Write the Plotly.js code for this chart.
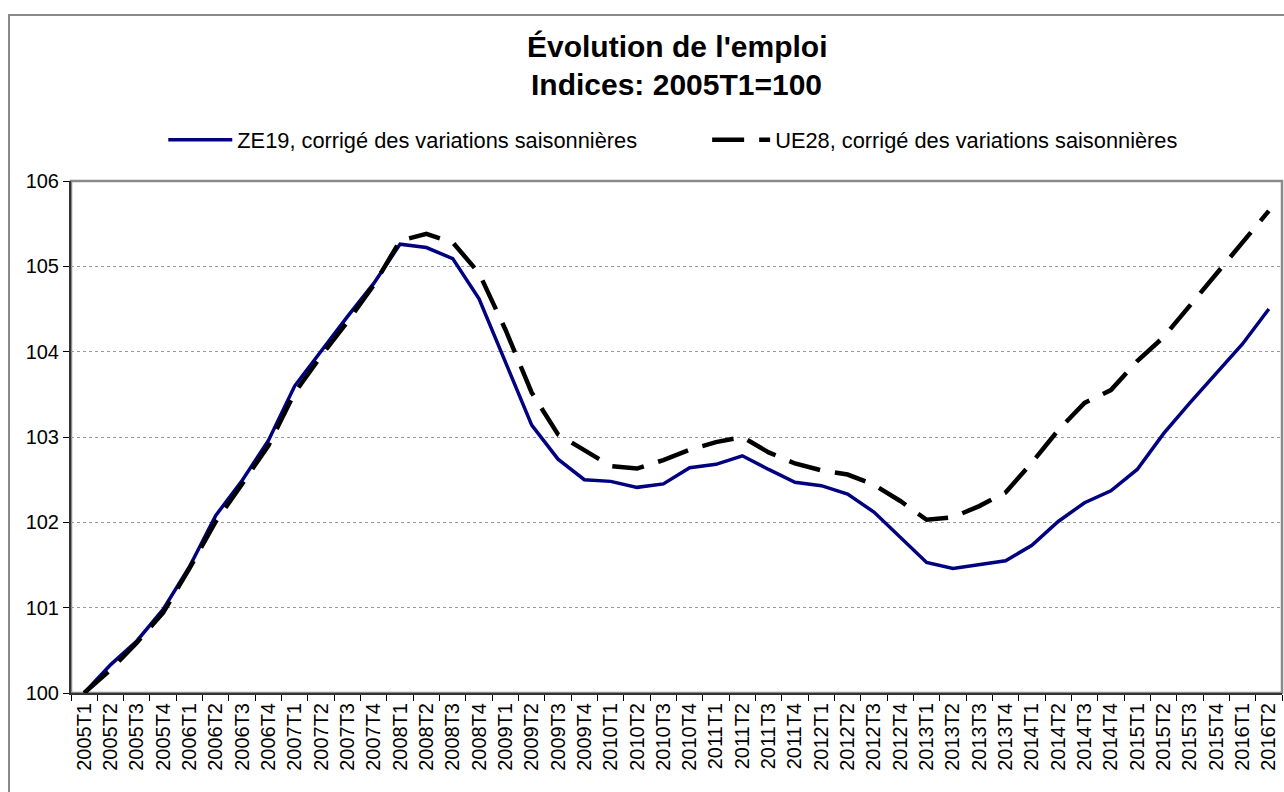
<!DOCTYPE html>
<html>
<head>
<meta charset="utf-8">
<script src="https://cdn.plot.ly/plotly-3.0.1.min.js"></script>
<style>
  html, body { margin: 0; padding: 0; background: #ffffff; }
  #wrap { position: relative; width: 1284px; height: 792px; overflow: hidden; }
  #frame { position: absolute; left: 8px; top: 14px; width: 1300px; height: 820px;
           border: 2px solid #8a8a8a; box-sizing: border-box; pointer-events: none; }
  #chart { position: absolute; left: 0; top: 0; width: 1284px; height: 792px; }
</style>
</head>
<body>
<div id="wrap">
  <div id="frame"></div>
  <div id="chart"></div>
</div>
<script>
const quarters = [
  "2005T1","2005T2","2005T3","2005T4","2006T1","2006T2","2006T3","2006T4",
  "2007T1","2007T2","2007T3","2007T4","2008T1","2008T2","2008T3","2008T4",
  "2009T1","2009T2","2009T3","2009T4","2010T1","2010T2","2010T3","2010T4",
  "2011T1","2011T2","2011T3","2011T4","2012T1","2012T2","2012T3","2012T4",
  "2013T1","2013T2","2013T3","2013T4","2014T1","2014T2","2014T3","2014T4",
  "2015T1","2015T2","2015T3","2015T4","2016T1","2016T2"
];

const ze19 = [
  100.00, 100.33, 100.61, 100.98, 101.48, 102.08, 102.49, 102.96,
  103.60, 104.01, 104.41, 104.80, 105.26, 105.22, 105.09, 104.62,
  103.88, 103.14, 102.74, 102.50, 102.48, 102.41, 102.45, 102.64,
  102.68, 102.78, 102.62, 102.47, 102.43, 102.33, 102.12, 101.83,
  101.53, 101.46, 101.50, 101.55, 101.73, 102.01, 102.23, 102.37,
  102.62, 103.04, 103.40, 103.75, 104.09, 104.50
];

const ue28 = [
  100.00, 100.27, 100.59, 100.94, 101.46, 102.01, 102.45, 102.90,
  103.52, 103.95, 104.35, 104.78, 105.30, 105.38, 105.28, 104.92,
  104.26, 103.52, 103.03, 102.85, 102.66, 102.63, 102.73, 102.85,
  102.94, 103.00, 102.82, 102.69, 102.61, 102.56, 102.44, 102.25,
  102.03, 102.06, 102.19, 102.35, 102.70, 103.08, 103.40, 103.55,
  103.89, 104.17, 104.54, 104.92, 105.30, 105.65
];

const seriesNames = [
  "ZE19, corrigé des variations saisonnières",
  "UE28, corrigé des variations saisonnières"
];
const titleLines = ["Évolution de l'emploi", "Indices: 2005T1=100"];

const FONT = '"Liberation Sans", Arial, Helvetica, sans-serif';

const traces = [
  {
    x: quarters, y: ze19, name: seriesNames[0], type: 'scatter', mode: 'lines',
    line: { color: '#000080', width: 3.5 }, legend: 'legend'
  },
  {
    x: quarters, y: ue28, name: seriesNames[1], type: 'scatter', mode: 'lines',
    line: { color: '#000000', width: 4.5, dash: '32px,15px' }, legend: 'legend2'
  }
];

const legendBase = {
  orientation: 'h', xanchor: 'left', y: 1.08, yanchor: 'middle',
  font: { family: FONT, size: 21.8, color: '#000000' },
  bgcolor: 'rgba(0,0,0,0)', borderwidth: 0
};

const layout = {
  width: 1284, height: 792,
  margin: { l: 71, r: 2, t: 181, b: 99, pad: 0 },
  paper_bgcolor: 'rgba(0,0,0,0)',
  plot_bgcolor: '#ffffff',
  font: { family: FONT, color: '#000000', size: 20 },
  showlegend: true,
  legend: Object.assign({}, legendBase, { x: 0.0762, itemwidth: 64 }),
  legend2: Object.assign({}, legendBase, { x: 0.5253, itemwidth: 58 }),
  xaxis: {
    type: 'category', range: [-0.5, quarters.length - 0.5],
    tickson: 'boundaries', ticks: 'outside', ticklen: 6, tickwidth: 1, tickcolor: '#000000',
    tickangle: -90, tickfont: { family: FONT, size: 20, color: '#000000' },
    showline: true, linecolor: '#333333', linewidth: 2,
    showgrid: false, zeroline: false, automargin: false, fixedrange: true
  },
  yaxis: {
    range: [100, 106], dtick: 1, tick0: 100,
    ticks: 'outside', ticklen: 6, tickwidth: 1, tickcolor: '#000000',
    tickfont: { family: FONT, size: 20, color: '#000000' },
    showline: true, linecolor: '#333333', linewidth: 2,
    showgrid: true, gridcolor: '#9a9a9a', gridwidth: 1, griddash: 'dot',
    zeroline: false, automargin: false, fixedrange: true
  },
  shapes: [
    { type: 'rect', xref: 'paper', yref: 'paper', x0: 0, x1: 1, y0: 0, y1: 1,
      line: { color: '#8a8a8a', width: 2.5 }, fillcolor: 'rgba(0,0,0,0)', layer: 'below' }
  ],
  annotations: [
    { text: '<b>' + titleLines[0] + '</b>', xref: 'paper', yref: 'paper', x: 0.5, y: 1.262,
      xanchor: 'center', yanchor: 'middle', showarrow: false,
      font: { family: FONT, size: 30, color: '#000000' } },
    { text: '<b>' + titleLines[1] + '</b>', xref: 'paper', yref: 'paper', x: 0.5, y: 1.188,
      xanchor: 'center', yanchor: 'middle', showarrow: false,
      font: { family: FONT, size: 30, color: '#000000' } }
  ]
};

Plotly.newPlot('chart', traces, layout, { displayModeBar: false, staticPlot: true });
</script>
</body>
</html>
